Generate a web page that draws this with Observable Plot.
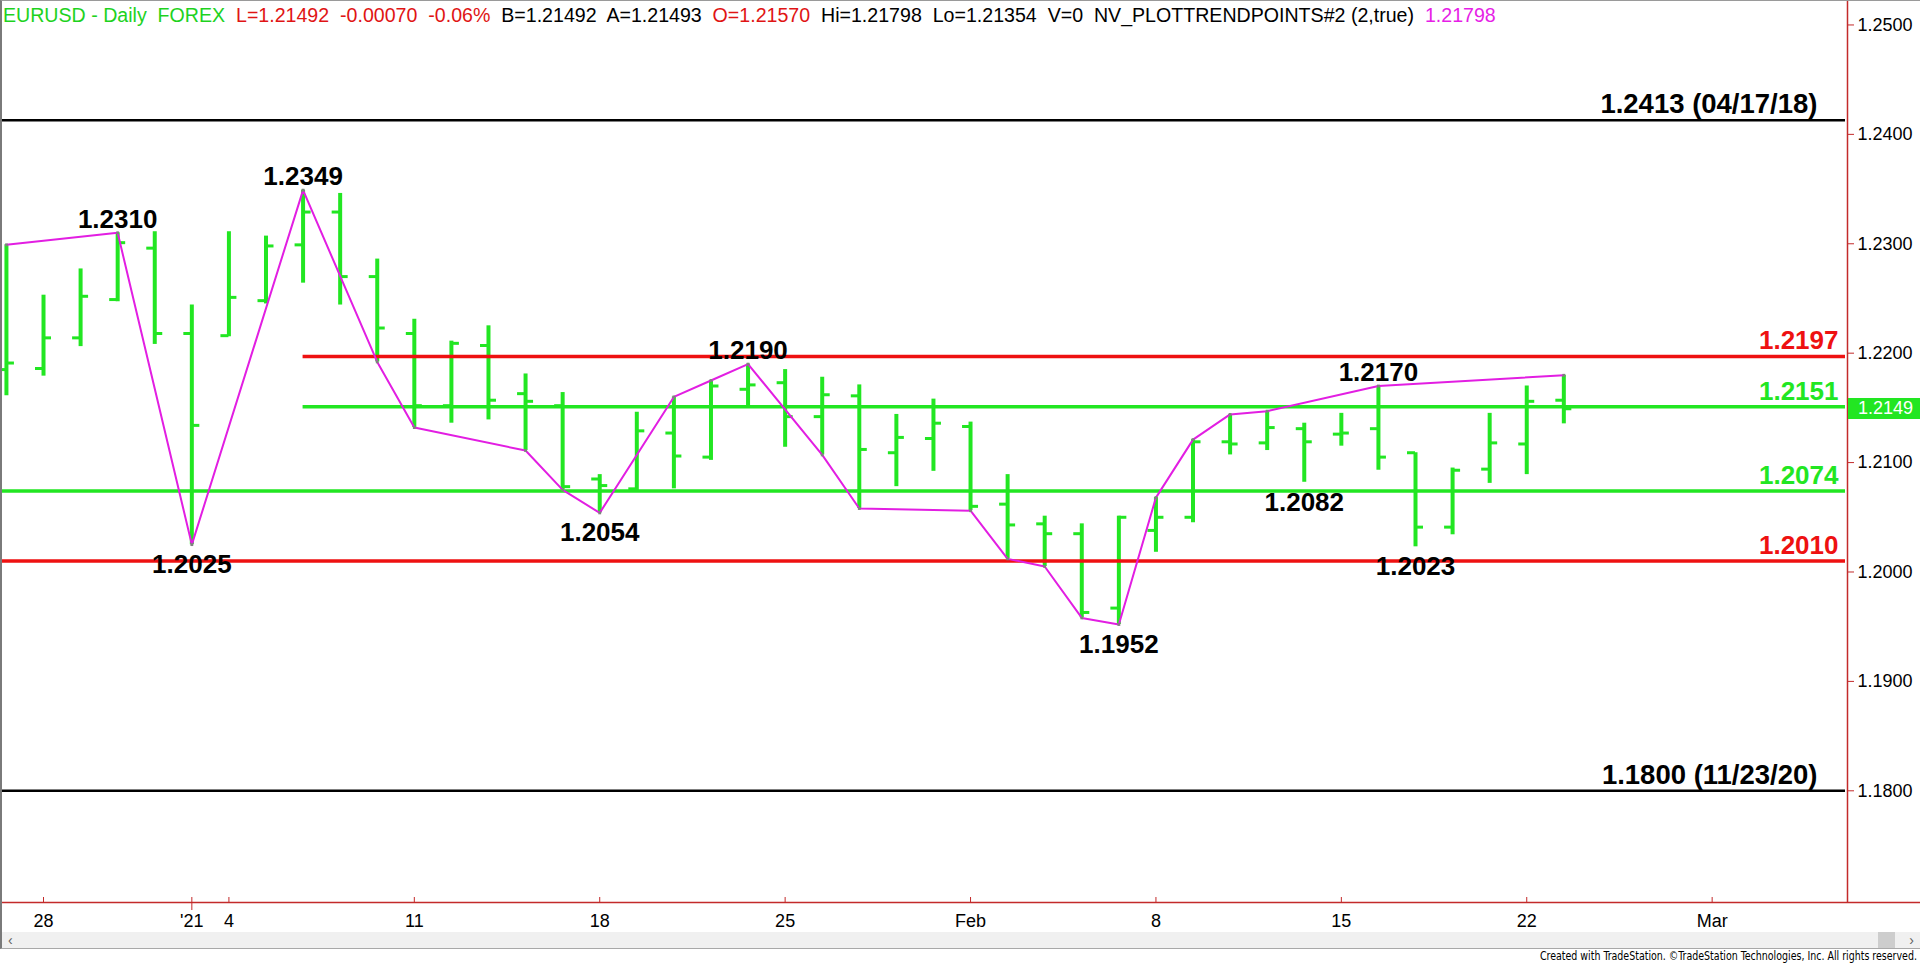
<!DOCTYPE html>
<html><head><meta charset="utf-8">
<script src="https://cdn.jsdelivr.net/npm/d3@7"></script>
<script src="https://cdn.jsdelivr.net/npm/@observablehq/plot@0.6"></script>
<style>
html,body{margin:0;padding:0;background:#fff;overflow:hidden;}
#wrap{position:relative;width:1920px;height:963px;overflow:hidden;font-family:"Liberation Sans",Arial,sans-serif;}
#chart{position:absolute;left:0;top:0;}
#frame{position:absolute;left:0;top:0;width:1918px;height:947px;border-left:2px solid #7a7a7a;border-top:1px solid #9a9a9a;border-bottom:1px solid #a8a8a8;pointer-events:none;z-index:3;}
#hdr{position:absolute;left:3px;top:5px;font-size:19.6px;line-height:20px;white-space:pre;z-index:4;}
#scroll{position:absolute;left:2px;top:932px;width:1918px;height:16px;background:#f0f0f0;z-index:2;font-size:14px;line-height:16px;color:#606060;}
#scroll .l{position:absolute;left:6px;top:0;}
#scroll .r{position:absolute;right:6px;top:0;}
#scroll .thumb{position:absolute;left:1876px;top:0;width:17px;height:16px;background:#cdcdcd;}
#foot{position:absolute;right:3px;top:949px;font-family:"Liberation Sans Narrow","DejaVu Sans Condensed",Arial,sans-serif;font-size:12px;line-height:14px;color:#000;z-index:4;transform:scaleX(0.877);transform-origin:right center;white-space:nowrap;}
#last{position:absolute;left:1848px;width:72px;height:21px;background:#22e622;color:#fff;font-size:18px;line-height:21px;padding-left:10px;box-sizing:border-box;z-index:4;}
</style></head><body>
<div id="wrap">
  <div id="chart"></div>
  <div id="frame"></div>
  <div id="hdr"></div>
  <div id="scroll"><span class="l">&lsaquo;</span><div class="thumb"></div><span class="r">&rsaquo;</span></div>
  <div id="foot">Created with TradeStation. ©TradeStation Technologies, Inc. All rights reserved.</div>
  <div id="last"></div>
</div>
<script>
// ---------- data ----------
const barDates = ["2020-12-25","2020-12-28","2020-12-29","2020-12-30","2020-12-31","2021-01-01",
  "2021-01-04","2021-01-05","2021-01-06","2021-01-07","2021-01-08",
  "2021-01-11","2021-01-12","2021-01-13","2021-01-14","2021-01-15",
  "2021-01-18","2021-01-19","2021-01-20","2021-01-21","2021-01-22",
  "2021-01-25","2021-01-26","2021-01-27","2021-01-28","2021-01-29",
  "2021-02-01","2021-02-02","2021-02-03","2021-02-04","2021-02-05",
  "2021-02-08","2021-02-09","2021-02-10","2021-02-11","2021-02-12",
  "2021-02-15","2021-02-16","2021-02-17","2021-02-18","2021-02-19",
  "2021-02-22","2021-02-23"];
const opens = [1.2185,1.2186,1.2214,1.2249,1.2296,1.2218,
  1.2216,1.2248,1.2299,1.2329,1.2270,
  1.2218,1.2152,1.2207,1.2163,1.2152,
  1.2085,1.2076,1.2127,1.2105,1.2167,
  1.2173,1.2142,1.2161,1.2109,1.2122,
  1.2133,1.2062,1.2044,1.2035,1.1967,
  1.2038,1.2050,1.2119,1.2118,1.2131,
  1.2126,1.2131,1.2109,1.2041,1.2094,
  1.2117,1.21570];
const highs = [1.2299,1.2253,1.2277,1.2310,1.2311,1.2244,
  1.2311,1.2307,1.2349,1.2346,1.2286,
  1.2231,1.2211,1.2225,1.2181,1.2164,
  1.2089,1.2146,1.2160,1.2175,1.2190,
  1.2185,1.2178,1.2171,1.2144,1.2158,
  1.2137,1.2089,1.2051,1.2044,1.2051,
  1.2068,1.2121,1.2144,1.2147,1.2136,
  1.2145,1.2170,1.2109,1.2095,1.2145,
  1.2170,1.21798];
const lows = [1.2161,1.2179,1.2206,1.2247,1.2208,1.2025,
  1.2215,1.2245,1.2264,1.2244,1.2192,
  1.2132,1.2136,1.2139,1.2111,1.2075,
  1.2054,1.2073,1.2076,1.2102,1.2151,
  1.2114,1.2107,1.2058,1.2078,1.2092,
  1.2056,1.2012,1.2005,1.1958,1.1952,
  1.2018,1.2045,1.2107,1.2111,1.2082,
  1.2115,1.2093,1.2023,1.2034,1.2081,
  1.2089,1.21354];
const closes = [1.2191,1.2214,1.2252,1.2301,1.2218,1.2134,
  1.2251,1.2298,1.2329,1.2270,1.2223,
  1.2152,1.2209,1.2157,1.2156,1.2078,
  1.2079,1.2129,1.2106,1.2170,1.2171,
  1.2142,1.2162,1.2112,1.2123,1.2136,
  1.2060,1.2043,1.2035,1.1963,1.2050,
  1.2050,1.2119,1.2117,1.2132,1.2119,
  1.2127,1.2105,1.2041,1.2093,1.2118,
  1.2156,1.21492];

// trend points (NV_PLOTTRENDPOINTS) vertices
const trendDates = ["2020-12-25","2020-12-30","2021-01-01","2021-01-06","2021-01-08","2021-01-11",
  "2021-01-14","2021-01-15","2021-01-18","2021-01-20","2021-01-21","2021-01-22","2021-01-26",
  "2021-01-27","2021-02-01","2021-02-02","2021-02-03","2021-02-04","2021-02-05","2021-02-08",
  "2021-02-09","2021-02-10","2021-02-11","2021-02-16","2021-02-23"];
const trendValues = [1.2299,1.2310,1.2025,1.2349,1.2192,1.2132,
  1.2111,1.2075,1.2054,1.2160,1.2175,1.2190,1.2107,
  1.2058,1.2056,1.2012,1.2005,1.1958,1.1952,1.2068,
  1.2121,1.2144,1.2147,1.2170,1.21798];

// pivot labels
const pivotDates = ["2020-12-30","2021-01-01","2021-01-06","2021-01-18","2021-01-22","2021-02-05","2021-02-12","2021-02-16","2021-02-17"];
const pivotValues = [1.2310,1.2025,1.2349,1.2054,1.2190,1.1952,1.2082,1.2170,1.2023];
const pivotSides = ["high","low","high","low","high","low","low","high","low"];

// horizontal levels
const levelValues = [1.2413,1.2197,1.2151,1.2074,1.2010,1.1800];
const levelTexts = ["1.2413 (04/17/18)","1.2197","1.2151","1.2074","1.2010","1.1800 (11/23/20)"];
const levelKinds = ["record","resistance","pivot","pivot","support","record"];
const levelStarts = [null,"2021-01-06","2021-01-06",null,null,null];

// axes
const tickDates = ["2020-12-28","2021-01-01","2021-01-04","2021-01-11","2021-01-18","2021-01-25","2021-02-01","2021-02-08","2021-02-15","2021-02-22","2021-03-01"];
const tickLabels = ["28","'21","4","11","18","25","Feb","8","15","22","Mar"];
const yearTickDates = ["2021-01-01"];
const yTicks = [1.18,1.19,1.20,1.21,1.22,1.23,1.24,1.25];

// header
const headerTexts = ["EURUSD - Daily  FOREX","  L=1.21492  -0.00070  -0.06%","  B=1.21492  A=1.21493","  O=1.21570","  Hi=1.21798  Lo=1.21354  V=0  NV_PLOTTRENDPOINTS#2 (2,true)","  1.21798"];
const headerRoles = ["symbol","last","quote","open","info","study"];

// ---------- styling ----------
const GREEN = "#22e622", RED = "#ee1111", MAG = "#e21ee2", AXIS = "#c32a2a", BLACK = "#000000";
const levelColor = {record: BLACK, resistance: RED, pivot: GREEN, support: RED};
const levelWidth = {record: 2.5, resistance: 3.5, pivot: 3.5, support: 3.5};
const headerColor = {symbol: "#1ed21e", last: "#e01414", quote: "#000", open: "#e01414", info: "#000", study: "#e61ee6"};

// ---------- helpers ----------
const t0 = new Date("2020-12-25T00:00:00Z");
const dayIndex = s => d3.utcDays(t0, new Date(s + "T00:00:00Z")).filter(d => d.getUTCDay() % 6 !== 0).length;

const bars = barDates.map((d, k) => ({i: dayIndex(d), o: opens[k], h: highs[k], l: lows[k], c: closes[k]}));
const trend = trendDates.map((d, k) => ({i: dayIndex(d), v: trendValues[k]}));
const pivots = pivotDates.map((d, k) => ({i: dayIndex(d), v: pivotValues[k], t: pivotValues[k].toFixed(4), side: pivotSides[k]}));
const xDom = [-0.106, 49.65];
const yDom = [1.16979, 1.25187];
const levels = levelValues.map((v, k) => ({v, t: levelTexts[k], kind: levelKinds[k],
  x1: levelStarts[k] ? dayIndex(levelStarts[k]) : xDom[0], x2: xDom[1],
  color: levelColor[levelKinds[k]], w: levelWidth[levelKinds[k]]}));
const ticks = tickDates.map((d, k) => ({i: dayIndex(d), label: tickLabels[k]}));
const tickLabelOf = new Map(ticks.map(t => [t.i, t.label]));
const yearTicks = yearTickDates.map(d => ({i: dayIndex(d)}));

const labelFont = "'Liberation Sans', Arial, sans-serif";

const plot = Plot.plot({
  width: 1920, height: 963,
  marginTop: 4, marginRight: 73, marginBottom: 61, marginLeft: 2,
  x: {type: "linear", domain: xDom, label: null},
  y: {type: "linear", domain: yDom, label: null},
  color: {type: "identity"},
  style: {fontFamily: labelFont, fontSize: "18px", background: "transparent", overflow: "visible"},
  marks: [
    // OHLC bars
    Plot.ruleX(bars, {x: "i", y1: "l", y2: "h", stroke: GREEN, strokeWidth: 4}),
    Plot.ruleY(bars, {y: "o", x1: "i", x2: "i", insetLeft: -8, stroke: GREEN, strokeWidth: 3}),
    Plot.ruleY(bars, {y: "c", x1: "i", x2: "i", insetRight: -8, stroke: GREEN, strokeWidth: 3}),
    // levels
    ...levels.map(l => Plot.ruleY([l], {y: "v", x1: "x1", x2: "x2", insetRight: 2, stroke: l.color, strokeWidth: l.w})),
    // trend line
    Plot.line(trend, {x: "i", y: "v", stroke: MAG, strokeWidth: 2}),
    Plot.dot(trend, {x: "i", y: "v", r: 1.6, symbol: "square", fill: "#808080"}),
    // pivot labels
    Plot.text(pivots.filter(p => p.side === "high"), {x: "i", y: "v", text: "t", lineAnchor: "bottom", dy: -5,
      fontSize: 26, fontWeight: "bold", fill: BLACK}),
    Plot.text(pivots.filter(p => p.side === "low"), {x: "i", y: "v", text: "t", lineAnchor: "top", dy: 10,
      fontSize: 26, fontWeight: "bold", fill: BLACK}),
    // level labels
    Plot.text(levels.filter(l => l.kind === "record"), {y: "v", text: "t", frameAnchor: "right", textAnchor: "end",
      lineAnchor: "bottom", dx: -30, dy: -7, fontSize: 27.5, fontWeight: "bold", fill: "color"}),
    Plot.text(levels.filter(l => l.kind !== "record"), {y: "v", text: "t", frameAnchor: "right", textAnchor: "end",
      lineAnchor: "bottom", dx: -9, dy: -7, fontSize: 26, fontWeight: "bold", fill: "color"}),
    // frame axis lines
    Plot.ruleY([yDom[0]], {stroke: AXIS, strokeWidth: 1.5, insetLeft: -2, insetRight: -73}),
    Plot.ruleX([xDom[1]], {stroke: AXIS, strokeWidth: 1.5, insetTop: -4}),
    // x tick marks (pointing up) and year tick
    Plot.ruleX(ticks, {x: "i", y1: yDom[0], y2: yDom[0], insetTop: -5, stroke: AXIS, strokeWidth: 1}),
    Plot.ruleX(yearTicks, {x: "i", y1: yDom[0], y2: yDom[0], insetBottom: -8, stroke: AXIS, strokeWidth: 1}),
    Plot.axisX({anchor: "bottom", ticks: ticks.map(t => t.i), tickFormat: i => tickLabelOf.get(i),
      tickSize: 0, tickPadding: 12, fill: BLACK, fontSize: 18, label: null}),
    Plot.axisY({anchor: "right", ticks: yTicks, tickFormat: d3.format(".4f"), tickSize: 6, tickPadding: 4,
      stroke: AXIS, fill: BLACK, fontSize: 18, label: null})
  ]
});
document.getElementById("chart").appendChild(plot);

// header
const hdr = document.getElementById("hdr");
headerTexts.forEach((t, k) => {
  const s = document.createElement("span");
  s.textContent = t;
  s.style.color = headerColor[headerRoles[k]];
  hdr.appendChild(s);
});

// last price marker positioned with the plot's y scale
const lastClose = closes[closes.length - 1];
const yS = plot.scale("y");
const lastEl = document.getElementById("last");
lastEl.textContent = lastClose.toFixed(4);
lastEl.style.top = (yS.apply(lastClose) - 10.5) + "px";
</script>
</body></html>
